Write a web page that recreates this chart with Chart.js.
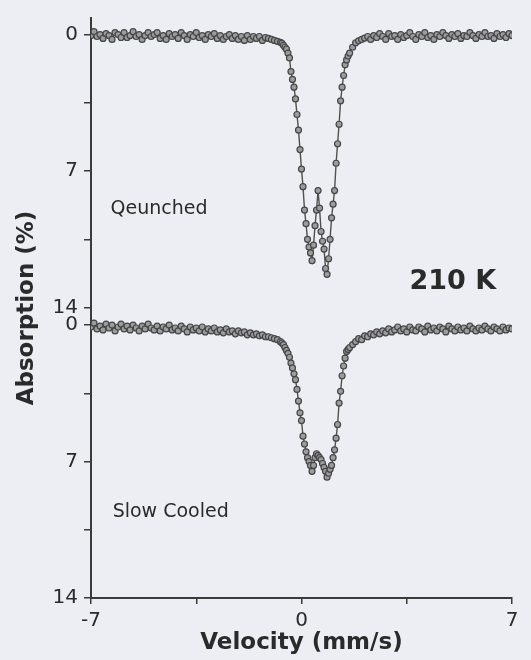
<!DOCTYPE html>
<html>
<head>
<meta charset="utf-8">
<script src="https://cdn.jsdelivr.net/npm/chart.js@4.4.1/dist/chart.umd.min.js"></script>
<style>
  html, body { margin: 0; padding: 0; background: #eceef3; }
  #wrap { width: 531px; height: 660px; }
</style>
</head>
<body>
<div id="wrap"><canvas id="spectrum" width="531" height="660"></canvas></div>
<script>
// channel velocities (mm/s)
const velocity = [
  -7.0, -6.9, -6.8, -6.7, -6.6, -6.5, -6.4, -6.3, -6.2, -6.1,
  -6.0, -5.9, -5.8, -5.7, -5.6, -5.5, -5.4, -5.3, -5.2, -5.1,
  -5.0, -4.9, -4.8, -4.7, -4.6, -4.5, -4.4, -4.3, -4.2, -4.1,
  -4.0, -3.9, -3.8, -3.7, -3.6, -3.5, -3.4, -3.3, -3.2, -3.1,
  -3.0, -2.9, -2.8, -2.7, -2.6, -2.5, -2.4, -2.3, -2.2, -2.1,
  -2.0, -1.9, -1.8, -1.7, -1.6, -1.5, -1.4, -1.3, -1.2, -1.1,
  -1.0, -0.9, -0.8, -0.7,
  -0.65, -0.6, -0.55, -0.5, -0.45, -0.4, -0.35, -0.3, -0.25, -0.2,
  -0.15, -0.1, -0.05, 0, 0.05, 0.1, 0.15, 0.2, 0.25, 0.3,
  0.35, 0.4, 0.45, 0.5, 0.55, 0.6, 0.65, 0.7, 0.75, 0.8,
  0.85, 0.9, 0.95, 1.0, 1.05, 1.1, 1.15, 1.2, 1.25, 1.3,
  1.35, 1.4, 1.45, 1.5, 1.55, 1.6,
  1.7, 1.8, 1.9, 2.0, 2.1, 2.2, 2.3, 2.4, 2.5, 2.6,
  2.7, 2.8, 2.9, 3.0, 3.1, 3.2, 3.3, 3.4, 3.5, 3.6,
  3.7, 3.8, 3.9, 4.0, 4.1, 4.2, 4.3, 4.4, 4.5, 4.6,
  4.7, 4.8, 4.9, 5.0, 5.1, 5.2, 5.3, 5.4, 5.5, 5.6,
  5.7, 5.8, 5.9, 6.0, 6.1, 6.2, 6.3, 6.4, 6.5, 6.6,
  6.7, 6.8, 6.9, 7.0
];

// absorption (%), quenched sample
const quenched = [
  0.05, -0.15, 0.1, 0, 0.2, -0.05, 0.05, 0.25, -0.1, 0,
  0.15, -0.1, 0.15, 0.05, -0.15, 0.1, 0, 0.25, 0.05, -0.1,
  0.1, 0, -0.1, 0.2, 0.05, 0.25, -0.05, 0.1, 0, 0.2,
  -0.1, 0.05, 0.25, 0, 0.1, -0.1, 0.15, 0.05, 0.25, 0,
  0.1, -0.05, 0.2, 0.05, 0.25, 0.1, 0, 0.2, 0.05, 0.25,
  0.1, 0.3, 0.05, 0.25, 0.1, 0.2, 0.1, 0.3, 0.15, 0.2,
  0.25, 0.3, 0.35, 0.4,
  0.45, 0.55, 0.65, 0.75, 0.95, 1.2, 1.9, 2.3, 2.7, 3.3,
  4.1, 4.9, 5.9, 6.9, 7.8, 9.0, 9.7, 10.5, 10.9, 11.2,
  11.6, 10.8, 9.8, 9.0, 8.0, 8.9, 10.1, 10.6, 11.0, 12.0,
  12.3, 11.5, 10.5, 9.4, 8.7, 8.0, 6.6, 5.6, 4.6, 3.4,
  2.7, 2.1, 1.55, 1.3, 1.1, 0.95,
  0.65, 0.42, 0.32, 0.25, 0.18, 0.1, 0.25, 0.05, 0.15, -0.05,
  0.1, 0.25, -0.05, 0.1, 0.05, 0.25, 0, 0.15, 0.05, -0.1,
  0.1, 0.25, 0, 0.1, -0.1, 0.15, 0.05, 0.25, 0, 0.1,
  -0.1, 0.05, 0.2, 0, 0.1, -0.05, 0.2, 0.05, 0.1, -0.1,
  0.05, 0.2, 0, 0.1, -0.1, 0.1, 0.05, 0.2, -0.05, 0.1,
  0, 0.15, -0.05, 0.05
];

// absorption (%), slow cooled sample
const slowCooled = [
  0.1, -0.1, 0.2, 0.05, 0.25, -0.05, 0.15, 0, 0.3, 0.1,
  -0.05, 0.2, 0.05, 0.25, 0, 0.15, 0.3, 0.05, 0.2, -0.05,
  0.15, 0.25, 0.05, 0.3, 0.1, 0.2, 0, 0.25, 0.15, 0.3,
  0.05, 0.2, 0.35, 0.1, 0.25, 0.15, 0.3, 0.1, 0.35, 0.2,
  0.3, 0.15, 0.35, 0.25, 0.4, 0.2, 0.35, 0.3, 0.45, 0.3,
  0.4, 0.35, 0.5, 0.4, 0.5, 0.45, 0.55, 0.5, 0.6, 0.6,
  0.65, 0.7, 0.75, 0.85,
  0.92, 1.0, 1.15, 1.3, 1.45, 1.65, 1.95, 2.2, 2.5, 2.8,
  3.3, 3.9, 4.5, 4.9, 5.7, 6.1, 6.5, 6.8, 7.0, 7.2,
  7.5, 7.2, 6.8, 6.6, 6.7, 6.8, 6.9, 7.1, 7.3, 7.5,
  7.8, 7.6, 7.4, 7.2, 6.8, 6.4, 5.8, 5.1, 4.0, 3.4,
  2.6, 2.1, 1.7, 1.35, 1.25, 1.15,
  1.0, 0.85, 0.7, 0.75, 0.55, 0.6, 0.45, 0.5, 0.35, 0.45,
  0.3, 0.4, 0.2, 0.35, 0.25, 0.1, 0.3, 0.2, 0.35, 0.1,
  0.25, 0.3, 0.1, 0.2, 0.35, 0.05, 0.25, 0.15, 0.3, 0.1,
  0.2, 0.35, 0.05, 0.2, 0.3, 0.1, 0.25, 0.15, 0.3, 0.05,
  0.2, 0.3, 0.15, 0.25, 0.05, 0.2, 0.3, 0.1, 0.2, 0.3,
  0.1, 0.25, 0.15, 0.2
];

const xTicks = [-7, -3.5, 0, 3.5, 7];
const xLabels = ["-7", "", "0", "", "7"];
const yPanelTicks = [0, 3.5, 7, 10.5, 14];
const yPanelLabels = ["0", "", "7", "", "14"];

// the slow cooled panel sits below the quenched one on the same axis
const panelShift = 14.9;
const yTicks = yPanelTicks.concat(yPanelTicks.map(t => t + panelShift));
const yLabels = yPanelLabels.concat(yPanelLabels);

const notes = [
  { text: "Qeunched", v: -6.35, a: 9.2, font: "19px 'DejaVu Sans'" },
  { text: "Slow Cooled", v: -6.28, a: 24.75, font: "19px 'DejaVu Sans'" },
  { text: "210 K", v: 3.59, a: 13.03, font: "bold 27px 'DejaVu Sans'" }
];

const ink = "#2a2a2a";

const notePlugin = {
  id: "notes",
  afterDatasetsDraw(chart) {
    const { ctx } = chart;
    const { x, y } = chart.scales;
    ctx.save();
    ctx.fillStyle = ink;
    ctx.textBaseline = "alphabetic";
    ctx.textAlign = "left";
    notes.forEach(n => {
      ctx.font = n.font;
      ctx.fillText(n.text, x.getPixelForValue(n.v), y.getPixelForValue(n.a));
    });
    ctx.restore();
  }
};

const lineStyle = {
  borderColor: "#505050",
  borderWidth: 1.4,
  pointRadius: 3,
  pointBorderWidth: 1.2,
  pointBorderColor: "#464646",
  pointBackgroundColor: "#9c9ca0",
  tension: 0,
  fill: false
};

new Chart(document.getElementById("spectrum"), {
  type: "line",
  data: {
    datasets: [
      { label: "Qeunched", data: velocity.map((v, i) => ({ x: v, y: quenched[i] })), ...lineStyle },
      { label: "Slow Cooled", data: velocity.map((v, i) => ({ x: v, y: slowCooled[i] + panelShift })), ...lineStyle }
    ]
  },
  options: {
    responsive: false,
    animation: false,
    devicePixelRatio: 1,
    layout: { padding: { top: 17, right: 19, left: 0, bottom: 0 } },
    plugins: { legend: { display: false }, tooltip: { enabled: false } },
    scales: {
      x: {
        type: "linear",
        min: -7,
        max: 7,
        afterFit: s => { s.height = 62; },
        afterBuildTicks: s => { s.ticks = xTicks.map(value => ({ value })); },
        ticks: {
          autoSkip: false,
          maxRotation: 0,
          padding: 5,
          color: ink,
          font: { family: "DejaVu Sans", size: 20 },
          callback: (value, i) => xLabels[i]
        },
        grid: { drawOnChartArea: false, tickLength: 6, color: "#3a3a3a", lineWidth: 1.5 },
        border: { color: "#3a3a3a", width: 2 },
        title: {
          display: true,
          text: "Velocity (mm/s)",
          color: ink,
          font: { family: "DejaVu Sans", size: 23, weight: "bold" },
          padding: { top: 0, bottom: 3 }
        }
      },
      y: {
        type: "linear",
        reverse: true,
        min: -0.85,
        max: 28.9,
        afterFit: s => { s.width = 91; },
        afterBuildTicks: s => { s.ticks = yTicks.map(value => ({ value })); },
        ticks: {
          autoSkip: false,
          padding: 6,
          color: ink,
          font: { family: "DejaVu Sans", size: 20 },
          callback: (value, i) => yLabels[i]
        },
        grid: { drawOnChartArea: false, tickLength: 7, color: "#3a3a3a", lineWidth: 1.5 },
        border: { color: "#3a3a3a", width: 2 },
        title: {
          display: true,
          text: "Absorption (%)",
          color: ink,
          font: { family: "DejaVu Sans", size: 23, weight: "bold" },
          padding: { top: 13, bottom: 0 }
        }
      }
    }
  },
  plugins: [notePlugin]
});
</script>
</body>
</html>
